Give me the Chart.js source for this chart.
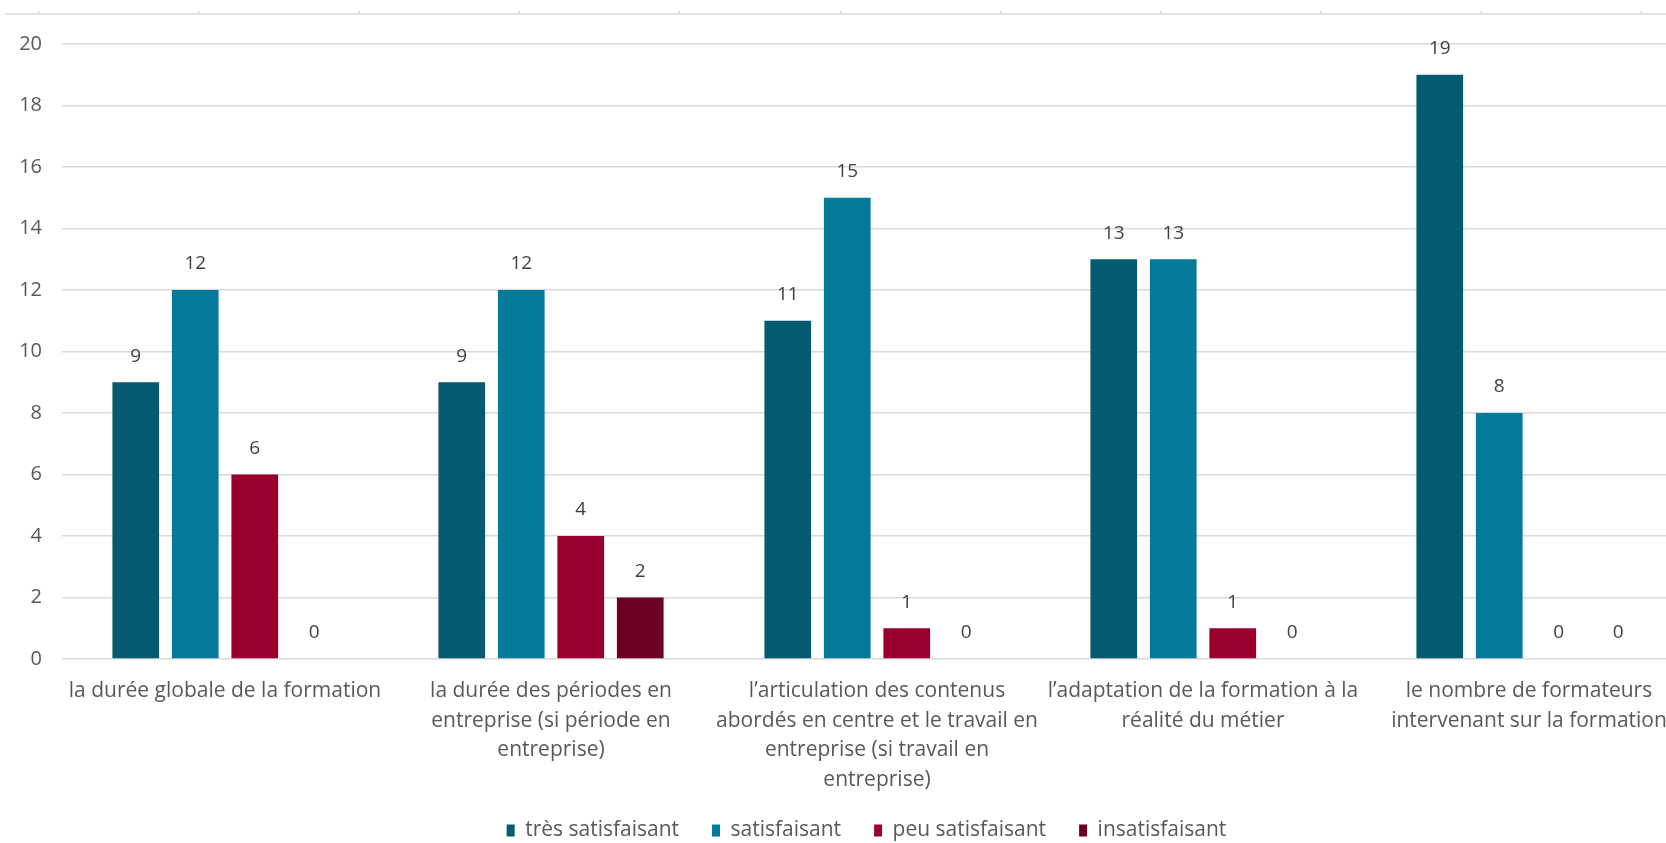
<!DOCTYPE html>
<html>
<head>
<meta charset="utf-8">
<script src="https://cdn.jsdelivr.net/npm/chart.js@4"></script>
<style>
  html, body { margin: 0; padding: 0; background: #fff; overflow: hidden; }
  #clip { width: 1666px; height: 843px; overflow: hidden; }
  /* the plot runs past the right edge in the original screenshot */
  #wrap { width: 1692px; height: 843px; position: relative; }
</style>
</head>
<body>
<div id="clip"><div id="wrap"><canvas id="satisfactionChart"></canvas></div></div>
<script>
const categories = [
  ["la durée globale de la formation"],
  ["la durée des périodes en", "entreprise (si période en", "entreprise)"],
  ["l\u2019articulation des contenus", "abordés en centre et le travail en", "entreprise (si travail en", "entreprise)"],
  ["l\u2019adaptation de la formation à la", "réalité du métier"],
  ["le nombre de formateurs", "intervenant sur la formation"]
];
const seriesNames = ["très satisfaisant", "satisfaisant", "peu satisfaisant", "insatisfaisant"];
const tresSatisfaisant = [9, 9, 11, 13, 19];
const satisfaisant = [12, 12, 15, 13, 8];
const peuSatisfaisant = [6, 4, 1, 1, 0];
const insatisfaisant = [0, 2, 0, 0, 0];
const seriesColors = ["#045b70", "#037a99", "#9a002e", "#6c0020"];

const fontFamily = "'Open Sans', 'Noto Sans', sans-serif";
const textColor = "#595959";
const gridColor = "#d9d9d9";

// value labels above each bar
const barValueLabels = {
  id: "barValueLabels",
  afterDatasetsDraw(chart) {
    const ctx = chart.ctx;
    ctx.save();
    ctx.font = "19px " + fontFamily;
    ctx.fillStyle = "#404040";
    ctx.textAlign = "center";
    ctx.textBaseline = "middle";
    chart.data.datasets.forEach((ds, i) => {
      const meta = chart.getDatasetMeta(i);
      meta.data.forEach((bar, j) => {
        ctx.fillText(String(ds.data[j]), bar.x, bar.y - 26);
      });
    });
    ctx.restore();
  }
};

// leftover edge of the chart above, as in the screenshot
const topRule = {
  id: "topRule",
  beforeDraw(chart) {
    const ctx = chart.ctx;
    ctx.save();
    ctx.strokeStyle = gridColor;
    ctx.lineWidth = 1.5;
    ctx.beginPath();
    ctx.moveTo(5, 14);
    ctx.lineTo(chart.width, 14);
    for (let x = 38; x < chart.width; x += 160.3) {
      ctx.moveTo(Math.round(x) + 0.5, 11);
      ctx.lineTo(Math.round(x) + 0.5, 14);
    }
    ctx.stroke();
    ctx.restore();
  }
};

// nudge the legend a little, like the original
const legendShift = {
  id: "legendShift",
  afterLayout(chart) {
    if (chart.legend) {
      chart.legend.left += 22;
      chart.legend.top -= 6;
    }
  }
};

const datasets = [tresSatisfaisant, satisfaisant, peuSatisfaisant, insatisfaisant].map((data, i) => ({
  label: seriesNames[i],
  data,
  backgroundColor: seriesColors[i],
  borderWidth: 0,
  categoryPercentage: 0.73,
  barPercentage: 0.785
}));

new Chart(document.getElementById("satisfactionChart"), {
  type: "bar",
  data: { labels: categories, datasets },
  plugins: [barValueLabels, topRule, legendShift],
  options: {
    responsive: true,
    maintainAspectRatio: false,
    animation: false,
    layout: { padding: { top: 44, right: 0, left: 19, bottom: -14 } },
    plugins: {
      legend: {
        position: "bottom",
        labels: {
          boxWidth: 8,
          boxHeight: 12,
          padding: 33,
          color: textColor,
          font: { family: fontFamily, size: 21 }
        }
      },
      tooltip: { enabled: false }
    },
    scales: {
      x: {
        grid: { display: false, drawTicks: false },
        border: { display: false },
        ticks: {
          color: textColor,
          maxRotation: 0,
          autoSkip: false,
          padding: 17,
          font: { family: fontFamily, size: 21, lineHeight: 1.417 }
        },
        afterFit(scale) {
          scale.height = 134;
          scale.paddingLeft = 0;
          scale.paddingRight = 0;
        }
      },
      y: {
        min: 0,
        max: 20,
        grid: { color: gridColor, lineWidth: 1.5, drawTicks: false },
        border: { display: false },
        ticks: {
          stepSize: 2,
          padding: 20,
          color: textColor,
          font: { family: fontFamily, size: 20 }
        },
        afterFit(scale) {
          scale.width = 43;
        }
      }
    }
  }
});
</script>
</body>
</html>
